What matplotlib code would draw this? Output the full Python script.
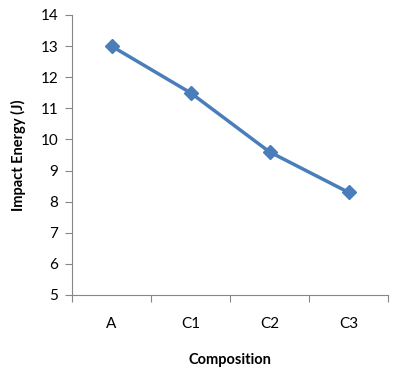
import matplotlib
matplotlib.use("Agg")
import matplotlib.pyplot as plt

categories = ["A", "C1", "C2", "C3"]
impact_energy = [13.0, 11.5, 9.6, 8.3]
y_ticks = [5, 6, 7, 8, 9, 10, 11, 12, 13, 14]

plt.rcParams["font.family"] = ["Lato", "DejaVu Sans"]

fig = plt.figure(figsize=(3.97, 3.74), dpi=100)
ax = fig.add_axes([72 / 397, 79 / 374, 316 / 397, 280 / 374])

x = [i + 0.5 for i in range(len(categories))]
ax.plot(x, impact_energy, color="#4A7EBB", lw=2.5, marker="D", ms=7,
        markerfacecolor="#4A7EBB", markeredgecolor="#4A7EBB")

ax.set_xlim(0, len(categories))
ax.set_ylim(5, 14)
ax.set_yticks(y_ticks)
ax.set_xticks(range(len(categories) + 1))
ax.set_xticklabels([])
ax.set_xticks(x, minor=True)
ax.set_xticklabels(categories, minor=True)
ax.tick_params(axis="x", which="minor", length=0, pad=16, labelsize=11)
ax.tick_params(axis="x", which="major", length=5, color="#868686")
ax.tick_params(axis="y", length=5, color="#868686", labelsize=11, pad=5)

for s in ["top", "right"]:
    ax.spines[s].set_visible(False)
for s in ["left", "bottom"]:
    ax.spines[s].set_color("#868686")

ax.set_xlabel("Composition", fontsize=10.5, fontweight="bold", labelpad=16)
ax.set_ylabel("Impact Energy (J)", fontsize=10.5, fontweight="bold", labelpad=10)

fig.savefig("out.png", dpi=100)
